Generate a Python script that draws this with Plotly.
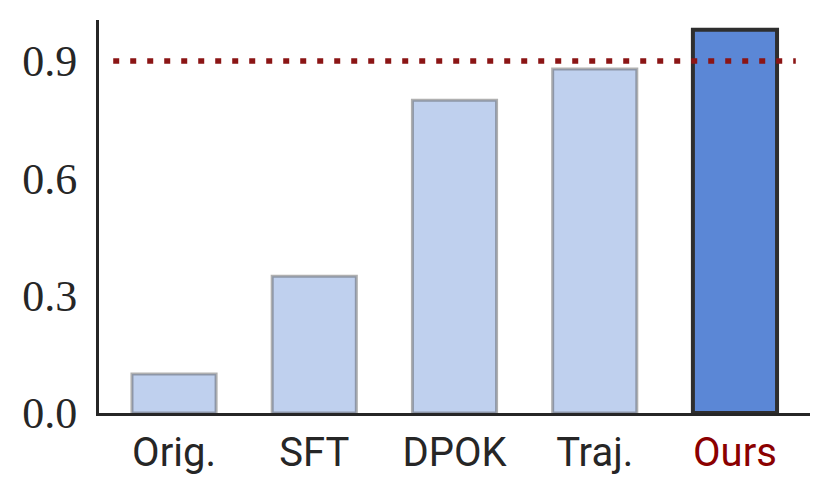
import plotly.graph_objects as go

methods = ["Orig.", "SFT", "DPOK", "Traj.", "Ours"]
scores = [0.10, 0.35, 0.80, 0.88, 0.98]
target = 0.9
y_ticks = [0.0, 0.3, 0.6, 0.9]

_LIGHT = "#bfd0ee"
_LIGHT_EDGE = "rgba(80,80,80,0.45)"
_OURS = "#5b87d6"
_OURS_EDGE = "#2e2e2e"
_RED = "#8b1515"
_AXIS = "#262626"

fills = [_LIGHT] * (len(methods) - 1) + [_OURS]
edges = [_LIGHT_EDGE] * (len(methods) - 1) + [_OURS_EDGE]
edge_w = [3] * (len(methods) - 1) + [4]

labels = methods[:-1] + [f'<span style="color:#8b0000">{methods[-1]}</span>']

fig = go.Figure(go.Bar(
    x=list(range(len(methods))), y=scores, width=0.6,
    marker=dict(color=fills, line=dict(color=edges, width=edge_w)),
    hoverinfo="skip",
))

# dotted reference line
fig.add_shape(type="line", xref="paper", yref="y", x0=0.02, x1=0.98,
              y0=target, y1=target, layer="above",
              line=dict(color=_RED, width=5.5, dash="6px,11px"))

# page body has an 8px margin, so the figure is 8px smaller and margins shift
fig.update_layout(
    width=823, height=490,
    margin=dict(l=91, r=21, t=12, b=85),
    paper_bgcolor="white", plot_bgcolor="white",
    showlegend=False,
)
fig.update_xaxes(
    range=[-0.535, 4.535], tickmode="array",
    tickvals=list(range(len(methods))), ticktext=labels,
    tickfont=dict(family="Roboto", size=40, color="#262626"),
    showline=True, linecolor=_AXIS, linewidth=3, ticks="",
    showgrid=False, zeroline=False, ticklabelstandoff=2, automargin=False,
)
fig.update_yaxes(
    range=[0, 1.005], tickmode="array", tickvals=y_ticks,
    ticktext=[f"{v:.1f}" for v in y_ticks],
    tickfont=dict(family="Liberation Serif", size=44, color="#262626"),
    showline=True, linecolor=_AXIS, linewidth=3, ticks="",
    showgrid=False, zeroline=False, ticklabelstandoff=10, automargin=False,
)

fig.write_html("out.html")
